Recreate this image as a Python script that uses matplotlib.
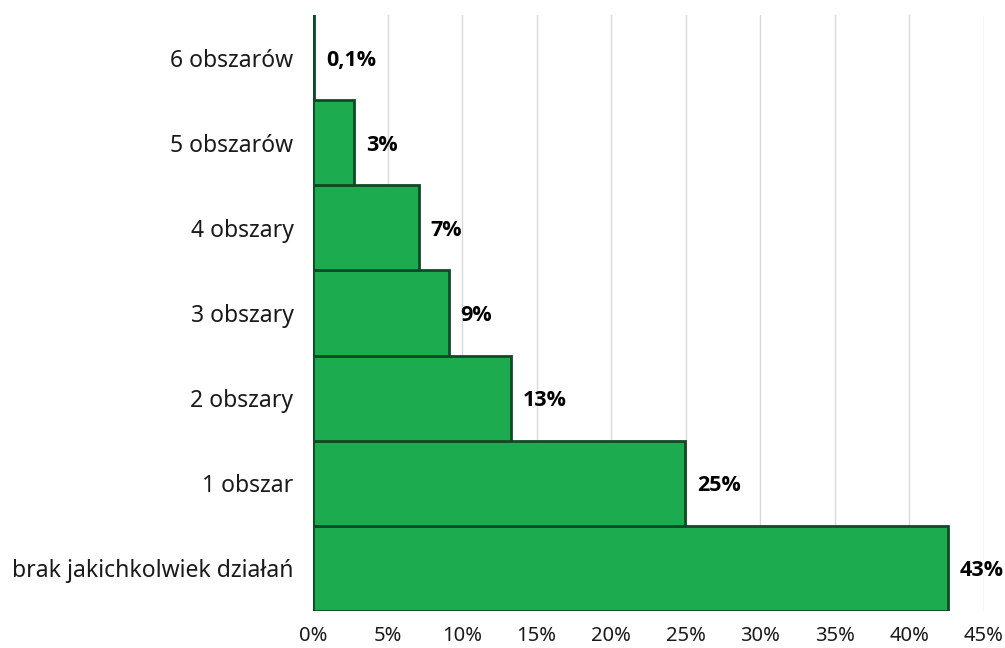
import matplotlib
matplotlib.use("Agg")
import matplotlib.pyplot as plt

categories = ["brak jakichkolwiek działań", "1 obszar", "2 obszary", "3 obszary",
              "4 obszary", "5 obszarów", "6 obszarów"]
values = [42.6, 24.95, 13.25, 9.1, 7.1, 2.75, 0.1]
value_labels = ["43%", "25%", "13%", "9%", "7%", "3%", "0,1%"]
xticks = [0, 5, 10, 15, 20, 25, 30, 35, 40, 45]

plt.rcParams["font.family"] = ["Noto Sans", "DejaVu Sans"]

fig = plt.figure(figsize=(10.05, 6.48), dpi=100)
ax = fig.add_axes([0.3114, 0.0571, 0.979 - 0.3114, 0.9769 - 0.0571])

ax.barh(range(len(categories)), values, height=1.0, color="#1DAB4F",
        edgecolor="#0E4A26", linewidth=2, zorder=3)
for i, (v, lab) in enumerate(zip(values, value_labels)):
    ax.text(v + 0.8, i - 0.03, lab, va="center", ha="left",
            fontsize=15.5, fontweight="bold", fontstretch="normal",
            family=["Open Sans", "DejaVu Sans"], color="#000000", zorder=4)

ax.set_xlim(0, 45)
ax.set_ylim(-0.5, len(categories) - 0.5)
ax.set_xticks(xticks)
ax.set_xticklabels([f"{t}%" for t in xticks], fontsize=14.5, color="#1A1A1A")
ax.set_yticks(range(len(categories)))
ax.set_yticklabels(categories, fontsize=16.5, color="#1A1A1A")
ax.tick_params(axis="both", length=0)
ax.tick_params(axis="x", pad=11)
ax.tick_params(axis="y", pad=14)
ax.grid(axis="x", color="#D9D9D9", linewidth=1.0, zorder=0)
ax.grid(axis="y", visible=False)
for s in ax.spines.values():
    s.set_visible(False)

fig.savefig("out.png", dpi=100)
